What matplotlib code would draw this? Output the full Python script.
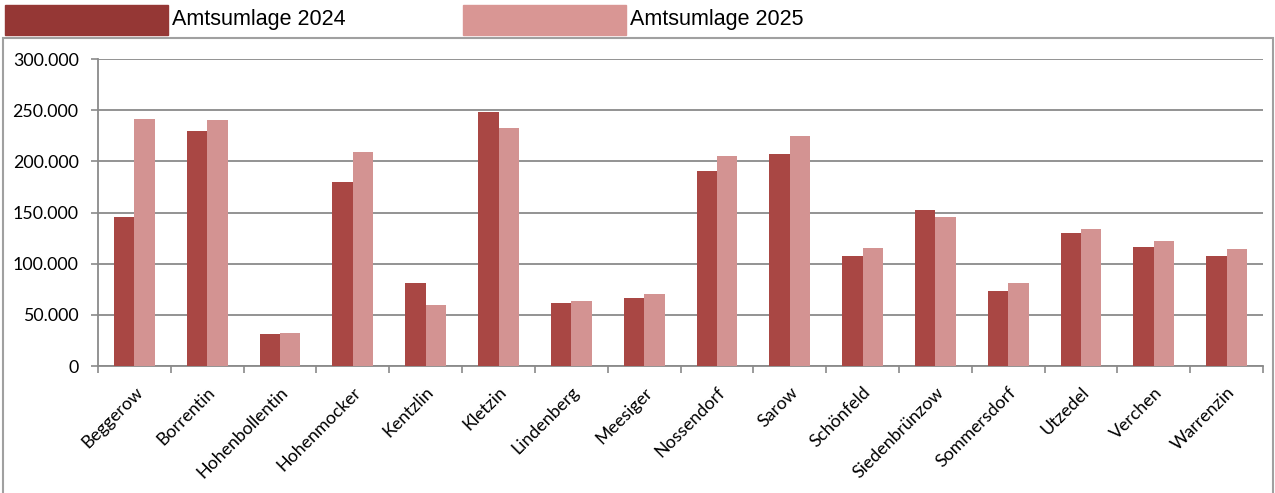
import numpy as np
import matplotlib.pyplot as plt
from matplotlib.patches import Rectangle
from matplotlib.ticker import FuncFormatter

# Gemeinden und Amtsumlage (Euro)
gemeinden = ["Beggerow", "Borrentin", "Hohenbollentin", "Hohenmocker", "Kentzlin",
             "Kletzin", "Lindenberg", "Meesiger", "Nossendorf", "Sarow", "Schönfeld",
             "Siedenbrünzow", "Sommersdorf", "Utzedel", "Verchen", "Warrenzin"]
umlage_2024 = [145700, 229900, 31000, 180300, 80900, 248500, 61600, 66800,
               191000, 207400, 107600, 152600, 73400, 129800, 116100, 107900]
umlage_2025 = [241000, 240300, 32300, 208700, 59700, 232800, 63600, 70800,
               204800, 224700, 115400, 145400, 80900, 134000, 122000, 114100]
serien = ["Amtsumlage 2024", "Amtsumlage 2025"]

c24 = "#A94744"
c25 = "#D39392"
plt.rcParams["font.family"] = ["Lato", "DejaVu Sans"]

fig = plt.figure(figsize=(12.75, 4.93), dpi=100)
ax = fig.add_axes([0.0769, 0.2576, 0.9137, 0.6227])

x = np.arange(len(gemeinden))
w = 0.28
ax.bar(x - w / 2, umlage_2024, width=w, color=c24, zorder=3)
ax.bar(x + w / 2, umlage_2025, width=w, color=c25, zorder=3)

ax.set_xlim(-0.5, len(gemeinden) - 0.5)
ax.set_ylim(0, 300000)
ax.set_yticks(np.arange(0, 300001, 50000))
ax.yaxis.set_major_formatter(FuncFormatter(lambda v, p: f"{int(v):,}".replace(",", ".")))
ax.grid(axis="y", color="#8a8a8a", linewidth=1.3, zorder=0)

ax.set_xticks(x)
ax.set_xticklabels(gemeinden, rotation=45, ha="right", rotation_mode="anchor", fontsize=12.8)
ax.set_xticks(np.arange(-0.5, len(gemeinden)), minor=True)
ax.tick_params(axis="x", which="major", length=0, pad=13)
ax.tick_params(axis="x", which="minor", length=5, color="#8a8a8a", width=1.2)
ax.tick_params(axis="y", length=5, color="#8a8a8a", width=1.2, labelsize=12.8, pad=9)

for s in ["top", "right"]:
    ax.spines[s].set_visible(False)
for s in ["left", "bottom"]:
    ax.spines[s].set_color("#8a8a8a")
    ax.spines[s].set_linewidth(1.3)

# Rahmen um das Diagramm
fig.patches.append(Rectangle((3 / 1275, -0.05), 1270 / 1275, 1 - 38 / 493 + 0.05,
                             transform=fig.transFigure, fill=False,
                             edgecolor="#a0a0a0", linewidth=1.5, clip_on=False))

# Legende oben
leg_cols = ["#953735", "#D99694"]
leg_x = [5, 463]
for lx, col, name in zip(leg_x, leg_cols, serien):
    fig.patches.append(Rectangle((lx / 1275, 1 - 35 / 493), 163 / 1275, 30 / 493,
                                 transform=fig.transFigure, color=col))
    fig.text((lx + 167) / 1275, 1 - 20 / 493, name, fontsize=15.5,
             family="Liberation Sans", va="center", ha="left")

fig.savefig("out.png", dpi=100)
